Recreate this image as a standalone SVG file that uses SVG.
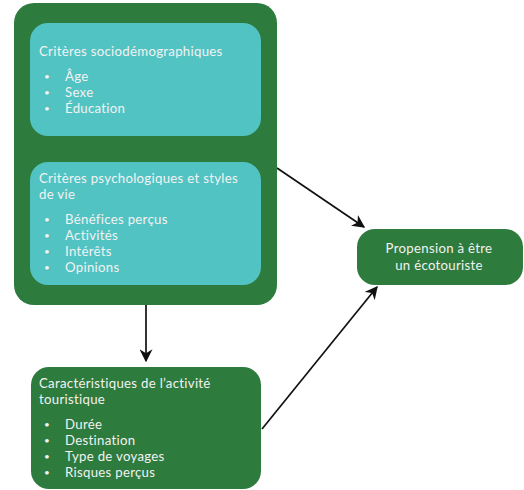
<svg xmlns="http://www.w3.org/2000/svg" width="524" height="490" viewBox="0 0 524 490">
<defs>
<style>
.g{fill:#2e7b3e}
.t{fill:#52c3c3}
text{font-family:Lato,"Open Sans","Liberation Sans",sans-serif;font-size:13.2px;letter-spacing:0.3px;fill:#f2f2f2}
text.b{font-size:10px}
.c{text-anchor:middle}
.e{stroke:#111;stroke-width:1.7;fill:none;marker-end:url(#ah)}
</style>
<marker id="ah" viewBox="0 0 10 10" refX="9" refY="5" markerWidth="13" markerHeight="13" markerUnits="userSpaceOnUse" orient="auto">
<path d="M0,0 L10,5 L0,10 L3,5 z" fill="#111"/>
</marker>
</defs>
<rect width="524" height="490" fill="#fff"/>
<g id="edges">
<line class="e" x1="277" y1="168" x2="364" y2="227"/>
<line class="e" x1="262" y1="429" x2="377" y2="287"/>
<line class="e" x1="146" y1="305" x2="146" y2="361"/>
</g>
<g id="group-criteria">
<rect class="g" x="14" y="3" width="263" height="302" rx="20"/>
</g>
<g id="node-socio">
<rect class="t" x="30" y="23" width="231" height="113" rx="18"/>
<text x="39" y="56">Critères sociodémographiques</text>
<text class="b" x="44" y="80">•</text><text x="65" y="81">Âge</text>
<text class="b" x="44" y="96">•</text><text x="65" y="97">Sexe</text>
<text class="b" x="44" y="112">•</text><text x="65" y="113">Éducation</text>
</g>
<g id="node-psycho">
<rect class="t" x="30" y="162" width="231" height="123" rx="18"/>
<text x="39" y="183">Critères psychologiques et styles</text>
<text x="39" y="199">de vie</text>
<text class="b" x="44" y="223">•</text><text x="65" y="224">Bénéfices perçus</text>
<text class="b" x="44" y="239">•</text><text x="65" y="240">Activités</text>
<text class="b" x="44" y="255">•</text><text x="65" y="256">Intérêts</text>
<text class="b" x="44" y="271">•</text><text x="65" y="272">Opinions</text>
</g>
<g id="node-propension">
<rect class="g" x="357" y="229" width="166" height="56" rx="18"/>
<text class="c" x="439" y="253">Propension à être</text>
<text class="c" x="439" y="270">un écotouriste</text>
</g>
<g id="node-activite">
<rect class="g" x="31" y="367" width="230" height="122" rx="18"/>
<text x="39" y="388">Caractéristiques de l’activité</text>
<text x="39" y="404">touristique</text>
<text class="b" x="44" y="428">•</text><text x="65" y="429">Durée</text>
<text class="b" x="44" y="444">•</text><text x="65" y="445">Destination</text>
<text class="b" x="44" y="460">•</text><text x="65" y="461">Type de voyages</text>
<text class="b" x="44" y="476">•</text><text x="65" y="477">Risques perçus</text>
</g>
</svg>
